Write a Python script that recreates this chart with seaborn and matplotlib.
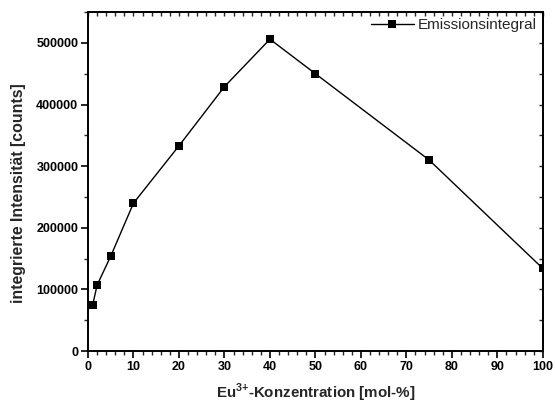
import matplotlib
matplotlib.use("Agg")
import matplotlib.pyplot as plt
from matplotlib.ticker import MultipleLocator, NullFormatter
import seaborn as sns
import pandas as pd

# Eu3+ concentration series and integrated emission intensity
konzentration = [1, 2, 5, 10, 20, 30, 40, 50, 75, 100]
intensitaet = [74000, 107000, 154000, 240000, 333000, 429000, 506000, 450000, 310000, 134000]
serie = "Emissionsintegral"

df = pd.DataFrame({"x": konzentration, "y": intensitaet, "serie": serie})

sns.set_style("ticks")
plt.rcParams["font.family"] = ["Liberation Sans", "DejaVu Sans"]
plt.rcParams["mathtext.fontset"] = "custom"
plt.rcParams["mathtext.rm"] = "Liberation Sans:bold"
plt.rcParams["mathtext.bf"] = "Liberation Sans:bold"

fig = plt.figure(figsize=(5.55, 4.03), dpi=100)
ax = fig.add_axes([0.1586, 0.129, 0.8194, 0.841])

sns.lineplot(data=df, x="x", y="y", hue="serie", palette=["black"],
             marker="s", markersize=5.5, markeredgewidth=0, linewidth=1.0,
             ax=ax, clip_on=True)

ax.set_xlim(0, 100)
ax.set_ylim(0, 550000)
ax.xaxis.set_major_locator(MultipleLocator(10))
ax.xaxis.set_minor_locator(MultipleLocator(2))
ax.yaxis.set_major_locator(MultipleLocator(100000))
ax.yaxis.set_minor_locator(MultipleLocator(50000))

for s in ax.spines.values():
    s.set_linewidth(1.4)
    s.set_color("black")
    s.set_visible(True)

ax.tick_params(which="major", direction="out", length=5, width=1.2,
               labelsize=9, colors="black", pad=2)
ax.tick_params(which="minor", direction="out", length=3, width=1.0)
for lab in ax.get_xticklabels() + ax.get_yticklabels():
    lab.set_fontweight("bold")

# inward ticks on the top and right frame
top = ax.secondary_xaxis("top")
top.xaxis.set_major_locator(MultipleLocator(10))
top.xaxis.set_minor_locator(MultipleLocator(2))
top.tick_params(which="both", direction="in", length=3, width=1.0, labeltop=False)
top.xaxis.set_major_formatter(NullFormatter())
top.spines["top"].set_linewidth(1.4)

right = ax.secondary_yaxis("right")
right.yaxis.set_major_locator(MultipleLocator(100000))
right.yaxis.set_minor_locator(MultipleLocator(50000))
right.tick_params(which="both", direction="in", length=3, width=1.0, labelright=False)
right.yaxis.set_major_formatter(NullFormatter())
right.spines["right"].set_linewidth(1.4)

ax.set_xlabel(r"Eu$^{3{+}}$-Konzentration [mol-%]", fontsize=10.9,
              fontweight="bold")
ax.xaxis.set_label_coords(0.5, -0.092)
ax.set_ylabel("integrierte Intensität [counts]", fontsize=11.4,
              fontweight="bold")
ax.yaxis.set_label_coords(-0.137, 0.466)

leg = ax.legend(loc="upper right", frameon=False, fontsize=11,
                handlelength=2.8, handletextpad=0.25,
                borderaxespad=0.2, borderpad=0.2)

fig.savefig("out.png", dpi=100)
